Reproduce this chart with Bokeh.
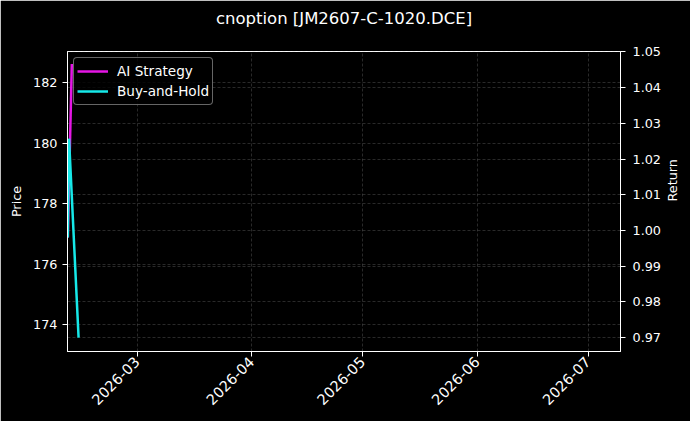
import numpy as np
import pandas as pd
from bokeh.plotting import figure
from bokeh.models import (Range1d, LinearAxis, Grid, SingleIntervalTicker,
                          MonthsTicker, DatetimeTickFormatter, NumeralTickFormatter,
                          Legend, LegendItem, Title)
from bokeh.embed import file_html
from bokeh.resources import INLINE

# data
ai_dates = pd.to_datetime(["2026-02-10 05:00", "2026-02-11 07:00"])
ai_return = [0.998, 1.0466]

bh_dates = pd.to_datetime(["2026-02-10 05:00", "2026-02-10 13:00", "2026-02-13 03:00"])
bh_return = [0.998, 1.0257, 0.9700]

x_start = pd.Timestamp("2026-02-10 03:00")
x_end = pd.Timestamp("2026-07-09 19:00")
price_lim = (173.11, 183.03)
return_lim = (0.9661, 1.0501)

FONT = "DejaVu Sans"
FG = "#ffffff"
GRID = "#9a9a9a"

p = figure(width=690, height=421, x_axis_type="datetime",
           x_range=Range1d(x_start, x_end),
           y_range=Range1d(*price_lim),
           title="",
           output_backend="svg", toolbar_location=None,
           background_fill_color="black", border_fill_color="black",
           min_border_left=67, min_border_right=70,
           min_border_top=51, min_border_bottom=70)
p.outline_line_color = FG
p.outline_line_width = 1

# empty spacer keeps the title up near the top edge
spacer = Title(text=" ", text_font_size="14px", standoff=0)
p.add_layout(spacer, "above")
title = Title(text="cnoption [JM2607-C-1020.DCE]", align="center",
              text_color=FG, text_font=FONT, text_font_size="16.5px",
              text_font_style="normal", standoff=12)
p.add_layout(title, "above")

p.extra_y_ranges = {"ret": Range1d(*return_lim)}

def style_axis(ax):
    ax.axis_line_color = FG
    ax.major_tick_line_color = FG
    ax.major_tick_out = 5
    ax.major_tick_in = 0
    ax.minor_tick_line_color = None
    ax.major_label_text_color = FG
    ax.major_label_text_font = FONT
    ax.major_label_text_font_size = "12.8px"
    ax.axis_label_text_color = FG
    ax.axis_label_text_font = FONT
    ax.axis_label_text_font_size = "12.8px"
    ax.axis_label_text_font_style = "normal"
    ax.major_label_standoff = 5

# x axis
xax = p.xaxis[0]
xax.ticker = MonthsTicker(months=list(range(12)))
xax.formatter = DatetimeTickFormatter(months="%Y-%m", days="%Y-%m", years="%Y-%m")
xax.major_label_orientation = np.pi / 4
style_axis(xax)
xax.major_label_text_font_size = "14.5px"
xax.major_label_standoff = 3

# left axis
yax = p.yaxis[0]
yax.ticker = SingleIntervalTicker(interval=2)
yax.formatter = NumeralTickFormatter(format="0")
yax.axis_label = "Price"
style_axis(yax)
yax.axis_label_standoff = 6

# right axis
rax = LinearAxis(y_range_name="ret", axis_label="Return",
                 ticker=SingleIntervalTicker(interval=0.01),
                 formatter=NumeralTickFormatter(format="0.00"))
style_axis(rax)
rax.major_label_standoff = 7
rax.axis_label_standoff = 9
rax.axis_label_orientation = np.pi / 2
p.add_layout(rax, "right")

for g in (p.xgrid[0], p.ygrid[0]):
    g.grid_line_color = GRID
    g.grid_line_alpha = 0.45
    g.grid_line_dash = "3 2"
    g.grid_line_width = 0.6
rgrid = Grid(dimension=1, ticker=rax.ticker, y_range_name="ret",
             grid_line_color=GRID, grid_line_alpha=0.45,
             grid_line_dash="3 2", grid_line_width=0.6)
p.add_layout(rgrid)

r_ai = p.line(ai_dates, ai_return, y_range_name="ret",
              line_color="#e616e6", line_width=2.5)
r_bh = p.line(bh_dates, bh_return, y_range_name="ret",
              line_color="#16e8e8", line_width=2.5)

legend = Legend(items=[LegendItem(label="AI Strategy", renderers=[r_ai]),
                       LegendItem(label="Buy-and-Hold", renderers=[r_bh])],
                location="top_left")
legend.margin = 6
legend.padding = 3
legend.spacing = 0
legend.glyph_width = 31
legend.glyph_height = 20
legend.label_height = 20
legend.label_standoff = 9
legend.label_text_color = FG
legend.label_text_font = FONT
legend.label_text_font_size = "13.6px"
legend.background_fill_color = "black"
legend.background_fill_alpha = 0.8
legend.border_line_color = "#cccccc"
legend.border_line_width = 1
if "border_radius" in Legend.properties():
    legend.border_radius = 4
p.add_layout(legend)

open("out.html", "w").write(file_html(p, INLINE))
